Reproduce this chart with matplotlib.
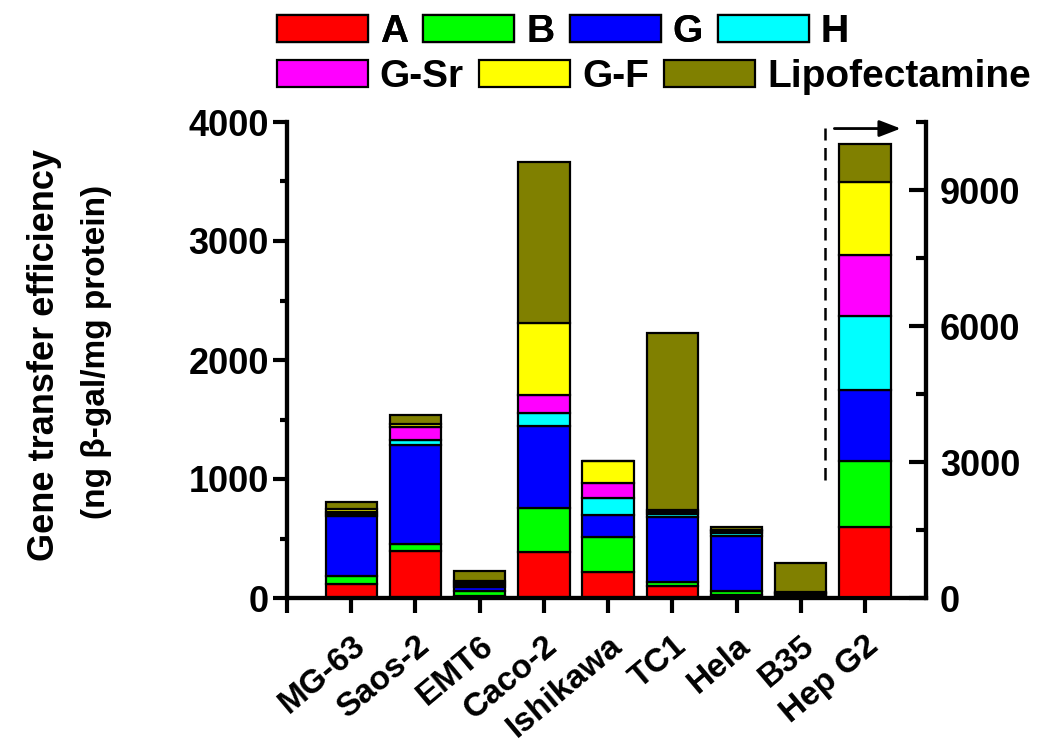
import numpy as np
import matplotlib
matplotlib.use("Agg")
import matplotlib.pyplot as plt
from matplotlib.ticker import MultipleLocator

plt.rcParams['font.family'] = ['Liberation Sans', 'DejaVu Sans']
plt.rcParams['font.weight'] = 'bold'

cells = ["MG-63", "Saos-2", "EMT6", "Caco-2", "Ishikawa", "TC1", "Hela", "B35", "Hep G2"]
# last entry (Hep G2) is read on the right axis
A    = [118, 397, 20, 384, 216, 101, 25, 10, 1557]
B    = [67, 57, 35, 370, 299, 36, 30, 10, 1474]
G    = [504, 832, 35, 691, 182, 546, 470, 15, 1562]
H    = [15, 42, 20, 107, 141, 20, 20, 5, 1634]
G_Sr = [15, 111, 15, 154, 131, 17, 15, 5, 1339]
G_F  = [25, 21, 20, 607, 182, 19, 15, 5, 1600]
Lipo = [60, 78, 80, 1353, 0, 1488, 20, 240, 855]

names = ["A", "B", "G", "H", "G-Sr", "G-F", "Lipofectamine"]
series = [A, B, G, H, G_Sr, G_F, Lipo]
colors = ["#FF0000", "#00FF00", "#0000FF", "#00FFFF", "#FF00FF", "#FFFF00", "#808000"]

fig = plt.figure(figsize=(10.5, 7.52), dpi=100)
ax = fig.add_axes([287/1050, 1-598/752, (926-287)/1050, 476/752])
ax2 = ax.twinx()

x = np.arange(1, len(cells) + 1)
w = 0.8
bottom1 = np.zeros(len(cells) - 1)
bottom2 = 0.0
handles = []
for name, vals, c in zip(names, series, colors):
    v = np.array(vals, dtype=float)
    b = ax.bar(x[:-1], v[:-1], w, bottom=bottom1, color=c, edgecolor="black", linewidth=1.6, label=name)
    ax2.bar(x[-1:], v[-1:], w, bottom=bottom2, color=c, edgecolor="black", linewidth=1.6)
    bottom1 += v[:-1]
    bottom2 += v[-1]
    handles.append(b)

ax.set_xlim(0, 9.95)
ax.set_ylim(0, 4000)
ax2.set_ylim(0, 10500)

ax.set_xticks(np.arange(0, 10))
ax.set_xticklabels([""] + cells, rotation=40, ha="right", va="top", rotation_mode="anchor")
ax.yaxis.set_major_locator(MultipleLocator(1000))
ax.yaxis.set_minor_locator(MultipleLocator(500))
ax2.yaxis.set_major_locator(MultipleLocator(3000))
ax2.yaxis.set_minor_locator(MultipleLocator(1500))

for a in (ax, ax2):
    for s in a.spines.values():
        s.set_linewidth(3)
    a.spines["top"].set_visible(False)

ax.tick_params(axis="x", which="major", direction="out", length=11, width=3, pad=12, labelsize=24)
ax.tick_params(axis="y", which="major", direction="out", length=10, width=3, pad=3, labelsize=26)
ax.tick_params(axis="y", which="minor", direction="out", length=5, width=3)
ax2.tick_params(axis="y", which="major", direction="in", length=12, width=3, pad=10, labelsize=26)
ax2.tick_params(axis="y", which="minor", direction="in", length=7, width=3)
for lab in ax.get_xticklabels() + ax.get_yticklabels() + ax2.get_yticklabels():
    lab.set_fontweight("bold")

# dashed divider and arrow pointing to the right axis
ax.plot([8.37, 8.37], [990, 3950], color="black", linestyle=(0, (5, 3)), linewidth=1.8)
ax.annotate("", xy=(9.6, 3945), xytext=(8.48, 3945),
            arrowprops=dict(arrowstyle="-|>,head_length=1.3,head_width=0.5", color="black", lw=2))

fig.text(45/1050, 1-355/752, "Gene transfer efficiency", rotation=90, ha="center", va="center",
         fontsize=26, fontweight="bold")
fig.text(97/1050, 1-352/752, "(ng β-gal/mg protein)", rotation=90, ha="center", va="center",
         fontsize=24, fontweight="bold")

prop = {"weight": "bold", "size": 28}
leg1 = fig.legend(handles[:4], names[:4], loc="center left", bbox_to_anchor=(277/1050, 1-32/752),
                  ncol=4, frameon=False, prop=prop, handlelength=2.34, handleheight=0.72,
                  handletextpad=0.3, columnspacing=0.4, borderpad=0, borderaxespad=0)
leg2 = fig.legend(handles[4:], names[4:], loc="center left", bbox_to_anchor=(277/1050, 1-77/752),
                  ncol=3, frameon=False, prop=prop, handlelength=2.34, handleheight=0.72,
                  handletextpad=0.3, columnspacing=0.4, borderpad=0, borderaxespad=0)
fig.add_artist(leg1)

fig.savefig("out.png", dpi=100)
